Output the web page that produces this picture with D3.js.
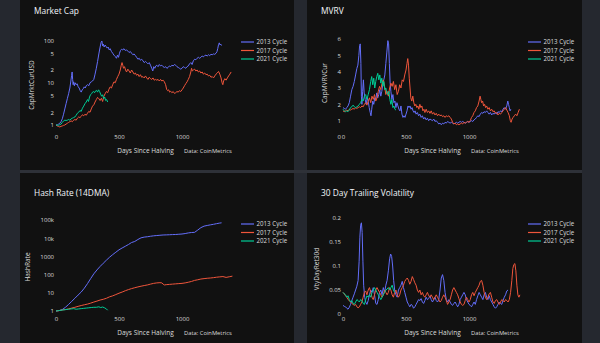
<!DOCTYPE html>
<html>
<head>
<meta charset="utf-8">
<script src="https://cdn.jsdelivr.net/npm/d3@7"></script>
<style>
  html, body { margin: 0; padding: 0; background: #25282f; }
  svg { display: block; }
</style>
</head>
<body>
<script>
// cycles shown in every panel
const cycles = ["2013 Cycle", "2017 Cycle", "2021 Cycle"];
const cycleColors = ["#636efa", "#ef553b", "#00cc96"];

const xTicks = [0, 500, 1000];

// Market Cap (normalised to halving day) -- [day, value]
const mcap2013 = [[0,1],[10,1],[20,1.05],[30,1.1],[40,1.2],[50,1.4],[60,1.8],[70,2.4],[80,3.2],[90,4.2],[100,5.5],[110,7.5],[118,11],[124,15],[128,18],[132,12],[136,9],[140,10.5],[146,8.5],[152,10],[160,9],[168,9.5],[176,8],[184,7.5],[192,6.5],[200,6],[208,6.8],[216,7.2],[224,8],[232,7.5],[240,8.5],[250,9],[260,8.5],[270,10],[280,10.5],[290,11],[300,12],[310,16],[320,22],[330,32],[340,48],[350,70],[358,90],[364,97],[370,75],[376,82],[382,70],[390,78],[398,72],[406,66],[414,70],[422,60],[430,64],[440,55],[450,50],[460,45],[470,42],[480,38],[488,45],[496,40],[504,50],[512,58],[520,62],[530,60],[540,64],[550,58],[560,60],[570,56],[580,52],[590,55],[600,50],[610,46],[620,48],[630,44],[640,40],[650,36],[660,38],[670,34],[680,36],[690,33],[700,30],[710,32],[720,30],[730,28],[740,30],[750,26],[760,22],[768,19],[776,24],[784,22],[792,25],[800,26],[810,24],[820,27],[830,25],[840,26],[850,24],[860,23],[870,24],[880,22],[890,23],[900,25],[910,24],[920,26],[930,25],[940,27],[950,26],[960,24],[970,23],[980,22],[990,21],[1000,22],[1010,24],[1020,23],[1030,22],[1040,24],[1050,25],[1060,28],[1070,30],[1080,27],[1090,33],[1100,36],[1110,35],[1120,38],[1130,40],[1140,38],[1150,40],[1160,43],[1170,41],[1180,44],[1190,45],[1200,43],[1210,46],[1220,44],[1230,47],[1240,46],[1250,48],[1260,47],[1270,50],[1278,55],[1284,65],[1290,80],[1296,88],[1302,78],[1308,82],[1314,76]];
const mcap2017 = [[0,1],[10,0.95],[20,0.92],[30,0.9],[40,0.93],[50,0.95],[60,0.98],[70,1],[80,1.05],[90,1.1],[100,1.15],[110,1.2],[120,1.25],[130,1.2],[140,1.3],[150,1.35],[160,1.3],[170,1.45],[180,1.55],[190,1.5],[200,1.6],[210,1.75],[220,1.65],[230,1.8],[240,1.7],[250,1.9],[260,2.1],[270,2],[280,2.4],[290,2.8],[300,3],[310,3.5],[320,4],[330,4.5],[340,4.2],[350,3.8],[360,4.3],[370,3.6],[380,4.8],[390,5.5],[400,6.2],[410,5.8],[420,7],[430,8],[440,7.5],[450,9],[460,10.5],[470,10],[480,12],[490,14],[500,16],[510,20],[518,26],[524,30],[530,26],[536,22],[544,24],[552,20],[560,18],[570,21],[580,19],[590,17],[600,20],[610,18],[620,16],[630,17],[640,15],[650,16],[660,14],[670,15.5],[680,13.5],[690,14],[700,13],[710,14.5],[720,13],[730,12],[740,13.5],[750,12.5],[760,12],[770,13],[780,11.5],[790,12],[800,11.5],[810,12],[820,11],[830,12],[840,11],[850,11.5],[860,10.5],[870,9],[878,7],[886,6.5],[894,6.8],[902,6],[910,6.3],[920,5.8],[930,6.2],[940,5.6],[950,5.8],[960,6.2],[970,6],[980,6.5],[990,6.2],[1000,6.8],[1010,7.5],[1020,8.5],[1030,9.5],[1040,10.5],[1050,12],[1060,14],[1070,18],[1076,22],[1082,19],[1090,20],[1100,21],[1110,19],[1120,20],[1130,18],[1140,19],[1150,17],[1160,18],[1170,16],[1180,17],[1190,15.5],[1200,16],[1210,14.5],[1220,15],[1230,13.5],[1240,14],[1250,13],[1260,14.5],[1270,16],[1280,17],[1290,18.5],[1300,16],[1310,13],[1318,10],[1324,9],[1330,11],[1340,12.5],[1350,11.5],[1360,13],[1370,14.5],[1380,16],[1390,18]];
const mcap2021 = [[0,1],[10,1],[20,0.98],[30,1.02],[40,1.05],[50,1.15],[60,1.25],[70,1.3],[80,1.28],[90,1.3],[100,1.35],[110,1.3],[120,1.4],[130,1.45],[140,1.5],[150,1.55],[160,1.7],[170,1.9],[180,2],[190,2.2],[200,2.1],[210,2.5],[220,2.8],[230,3.2],[240,3.5],[250,4],[258,3.6],[266,4.6],[274,5.2],[282,5.5],[290,6],[298,6.2],[306,5.8],[314,6.4],[322,6.6],[330,6],[338,6.8],[346,6.2],[354,5.4],[362,4.8],[370,5.2],[378,4.2],[386,4.6],[394,3.8],[402,4],[410,3.5]];
const mcapTicks = [1, 2, 5, 10, 20, 50, 100];
const mcapTickLabels = ["1", "2", "5", "10", "2", "5", "100"];

// MVRV
const mvrv2013 = [[0,1.8],[10,1.75],[20,1.7],[30,1.8],[40,1.9],[50,2.1],[60,2.5],[70,2.9],[80,3.1],[90,3.4],[100,3.8],[110,4.2],[118,4.4],[126,5],[132,5.6],[137,5.7],[142,4.5],[146,2.5],[150,2],[156,2.8],[162,3.5],[168,2.7],[176,2.3],[184,2],[192,2.4],[200,2.2],[208,1.8],[216,1.5],[222,1.3],[228,1.7],[236,2.2],[244,2],[252,2.4],[260,2.3],[268,2.7],[276,2.4],[284,2.6],[292,2.9],[300,2.5],[308,2.8],[316,3.2],[324,3.5],[332,3.8],[340,4.5],[348,5.2],[356,5.9],[362,5.7],[368,4.5],[374,3.3],[380,2.8],[388,2.3],[396,2.6],[404,2.1],[412,2.2],[420,1.8],[428,2.1],[436,1.9],[444,1.7],[452,1.6],[460,1.9],[468,1.4],[476,1.2],[484,1.3],[492,1.2],[500,1.4],[508,1.6],[516,1.9],[524,1.8],[532,1.9],[540,1.7],[548,1.8],[556,1.6],[564,1.5],[572,1.6],[580,1.4],[590,1.5],[600,1.3],[610,1.4],[620,1.2],[630,1.3],[640,1.1],[650,1.2],[660,1.05],[670,1.15],[680,1],[690,1.1],[700,1.05],[710,1],[720,1.1],[730,0.95],[740,1],[750,0.9],[760,0.8],[770,0.85],[780,0.75],[790,0.85],[800,0.8],[810,0.9],[820,0.85],[830,0.95],[840,0.9],[850,0.85],[860,0.9],[870,0.85],[880,0.8],[890,0.85],[900,0.9],[910,0.85],[920,0.9],[930,0.95],[940,0.9],[950,0.95],[960,0.9],[970,0.85],[980,0.9],[990,0.95],[1000,0.9],[1010,0.95],[1020,1],[1030,0.95],[1040,1.05],[1050,1.1],[1060,1.2],[1070,1.3],[1080,1.25],[1090,1.4],[1100,1.5],[1110,1.45],[1120,1.55],[1130,1.5],[1140,1.6],[1150,1.5],[1160,1.4],[1170,1.5],[1180,1.35],[1190,1.45],[1200,1.4],[1210,1.5],[1220,1.4],[1230,1.55],[1240,1.5],[1250,1.6],[1260,1.55],[1270,1.7],[1280,1.8],[1290,1.7],[1300,1.9],[1308,2.2],[1314,2],[1320,1.8],[1326,1.6],[1332,1.7]];
const mvrv2017 = [[0,1.6],[10,1.55],[20,1.6],[30,1.65],[40,1.6],[50,1.7],[60,1.65],[70,1.7],[80,1.75],[90,1.7],[100,1.8],[110,1.75],[120,1.8],[130,1.85],[140,1.8],[150,1.9],[160,1.85],[170,2],[180,2.1],[190,1.95],[200,2.2],[210,2.4],[220,2.1],[230,2.5],[240,2.3],[250,2.6],[260,2.2],[270,2.4],[280,2.8],[290,3.1],[300,2.9],[310,3.3],[320,3.5],[330,3.1],[340,2.6],[350,2.8],[360,2.5],[370,3],[380,3.3],[390,3.1],[400,3.4],[410,2.9],[420,3.2],[430,2.6],[440,2.8],[450,3.2],[460,3],[470,3.5],[480,3.4],[490,3.8],[500,4.1],[508,4.5],[514,4.8],[520,4.4],[526,3.6],[532,3],[538,2.4],[546,2.2],[554,2.5],[562,2.1],[570,1.9],[578,2],[586,1.8],[594,1.9],[602,1.7],[610,2],[618,1.8],[626,1.9],[634,1.6],[642,1.7],[650,1.5],[660,1.7],[670,1.5],[680,1.6],[690,1.45],[700,1.6],[710,1.4],[720,1.5],[730,1.35],[740,1.45],[750,1.3],[760,1.4],[770,1.3],[780,1.35],[790,1.25],[800,1.3],[810,1.2],[820,1.3],[830,1.25],[840,1.3],[850,1.2],[860,1.1],[870,0.9],[880,0.8],[890,0.85],[900,0.75],[910,0.8],[920,0.75],[930,0.8],[940,0.85],[950,0.8],[960,0.9],[970,0.85],[980,0.9],[990,0.95],[1000,0.9],[1010,1],[1020,1.2],[1030,1.3],[1040,1.5],[1050,1.6],[1060,1.8],[1070,1.9],[1080,2.2],[1088,2.5],[1094,2.3],[1100,2.1],[1108,2.2],[1116,1.9],[1124,2],[1132,1.8],[1140,1.9],[1150,1.7],[1160,1.8],[1170,1.6],[1180,1.7],[1190,1.55],[1200,1.6],[1210,1.45],[1220,1.5],[1230,1.35],[1240,1.45],[1250,1.4],[1260,1.5],[1270,1.6],[1280,1.7],[1290,1.8],[1300,1.65],[1310,1.5],[1320,1.3],[1328,1],[1334,0.9],[1342,1.1],[1350,1.2],[1360,1.3],[1370,1.4],[1380,1.3],[1390,1.5],[1400,1.7]];
const mvrv2021 = [[0,1.7],[10,1.6],[20,1.55],[30,1.6],[40,1.55],[50,1.65],[60,1.8],[70,1.85],[80,1.95],[90,1.85],[100,1.8],[110,1.85],[120,1.9],[130,2],[140,2.1],[150,2.3],[160,2.2],[170,2.5],[180,2.6],[190,2.3],[200,2.6],[210,2.9],[220,3.4],[228,3.7],[236,3.2],[244,3.6],[252,3],[260,3.4],[268,3.7],[276,3.9],[284,3.5],[292,3.8],[300,3.3],[308,3.6],[316,3.1],[324,3.4],[332,2.9],[340,3],[348,2.7],[356,2.6],[364,2.8],[372,2.3],[380,2],[388,2.3],[396,1.8],[404,1.9],[412,1.7],[420,1.65]];
const mvrvTicks = [0, 1, 2, 3, 4, 5, 6];

// Hash Rate (14DMA, normalised)
const hash2013 = [[0,1],[25,1.05],[50,1.2],[75,1.6],[100,2.3],[125,3.4],[150,5],[175,7.5],[200,11],[225,18],[250,32],[275,60],[300,110],[325,180],[350,280],[375,420],[400,620],[425,900],[450,1250],[475,1700],[500,2300],[525,2900],[550,3600],[575,4500],[600,5800],[625,6600],[650,8500],[675,10500],[700,11500],[725,12000],[750,12800],[775,13500],[800,14000],[825,14500],[850,15000],[875,15200],[900,15500],[925,15800],[950,16000],[975,16500],[1000,17000],[1025,18000],[1050,19500],[1075,20500],[1100,21000],[1125,28000],[1150,38000],[1175,46000],[1200,50000],[1225,54000],[1250,58000],[1275,63000],[1300,68000],[1314,70000]];
const hash2017 = [[0,1],[25,1.05],[50,1.15],[75,1.2],[100,1.3],[125,1.45],[150,1.6],[175,1.8],[200,2],[225,2.2],[250,2.4],[275,2.7],[300,3.1],[325,3.5],[350,4],[375,4.4],[400,5],[425,6],[450,6.8],[475,8],[500,9.5],[525,11],[550,13],[575,15],[600,17],[625,19],[650,21],[675,23],[700,25],[725,27],[750,30],[775,33],[800,35],[825,36],[840,35],[850,30],[860,27],[875,28],[900,29],[925,30],[950,31],[975,32],[1000,33],[1025,35],[1050,38],[1075,42],[1100,48],[1125,52],[1150,57],[1175,60],[1200,63],[1225,65],[1250,68],[1275,72],[1300,75],[1325,78],[1350,70],[1375,76],[1400,82]];
const hash2021 = [[0,1],[20,1.05],[40,1.1],[60,1.15],[80,1.2],[100,1.25],[120,1.3],[140,1.35],[160,1.25],[180,1.3],[200,1.35],[220,1.4],[240,1.45],[260,1.5],[280,1.55],[300,1.6],[320,1.6],[340,1.7],[355,1.55],[370,1.65],[385,1.5],[400,1.3],[410,1.1]];
const hashTicks = [1, 10, 100, 1000, 10000, 100000];
const hashTickLabels = ["1", "10", "100", "1000", "10k", "100k"];

// 30 day trailing volatility
const vol2013 = [[0,.018],[10,.016],[20,.015],[30,.012],[40,.01],[50,.014],[60,.02],[70,.028],[80,.035],[90,.042],[100,.05],[110,.058],[120,.07],[128,.11],[134,.16],[140,.185],[146,.19],[152,.17],[158,.11],[164,.06],[172,.035],[180,.025],[190,.02],[200,.028],[210,.04],[220,.05],[230,.045],[240,.055],[250,.04],[260,.022],[270,.02],[280,.03],[290,.045],[300,.05],[310,.04],[320,.055],[330,.045],[340,.06],[350,.07],[360,.09],[370,.115],[378,.125],[386,.12],[394,.1],[402,.07],[410,.05],[420,.04],[430,.035],[440,.05],[450,.055],[460,.06],[470,.068],[480,.055],[490,.045],[500,.035],[510,.025],[520,.02],[530,.015],[540,.02],[550,.018],[560,.012],[570,.015],[580,.02],[590,.025],[600,.03],[610,.028],[620,.032],[630,.025],[640,.022],[650,.028],[660,.035],[670,.03],[680,.032],[690,.038],[700,.03],[710,.025],[720,.03],[730,.035],[740,.028],[750,.025],[760,.03],[770,.05],[780,.075],[790,.082],[800,.07],[810,.045],[820,.03],[830,.025],[840,.03],[850,.025],[860,.02],[870,.018],[880,.022],[890,.025],[900,.02],[910,.015],[920,.02],[930,.03],[940,.035],[950,.04],[960,.045],[970,.04],[980,.03],[990,.025],[1000,.02],[1010,.018],[1020,.015],[1030,.02],[1040,.025],[1050,.02],[1060,.03],[1070,.038],[1080,.045],[1090,.04],[1100,.035],[1110,.03],[1120,.04],[1130,.045],[1140,.035],[1150,.03],[1160,.038],[1170,.03],[1180,.025],[1190,.02],[1200,.015],[1210,.012],[1220,.015],[1230,.02],[1240,.025],[1250,.022],[1260,.02],[1270,.028],[1280,.035],[1290,.04],[1300,.048],[1310,.05]];
const vol2017 = [[0,.045],[10,.042],[20,.038],[30,.035],[40,.03],[50,.028],[60,.025],[70,.022],[80,.02],[90,.018],[100,.02],[110,.015],[120,.013],[130,.015],[140,.02],[150,.025],[160,.035],[170,.045],[180,.048],[190,.04],[200,.05],[210,.055],[220,.045],[230,.035],[240,.03],[250,.04],[260,.05],[270,.055],[280,.05],[290,.045],[300,.04],[310,.035],[320,.04],[330,.05],[340,.045],[350,.04],[360,.045],[370,.055],[380,.05],[390,.04],[400,.035],[410,.045],[420,.05],[430,.04],[440,.035],[450,.04],[460,.05],[470,.055],[480,.06],[490,.068],[500,.072],[510,.075],[520,.07],[530,.062],[540,.068],[550,.078],[560,.072],[570,.065],[580,.06],[590,.05],[600,.045],[610,.05],[620,.04],[630,.045],[640,.038],[650,.035],[660,.04],[670,.045],[680,.038],[690,.035],[700,.04],[710,.035],[720,.03],[730,.035],[740,.04],[750,.035],[760,.03],[770,.025],[780,.028],[790,.035],[800,.04],[810,.035],[820,.028],[830,.02],[840,.025],[850,.03],[860,.04],[870,.05],[880,.055],[890,.05],[900,.045],[910,.04],[920,.032],[930,.025],[940,.02],[950,.018],[960,.02],[970,.028],[980,.035],[990,.03],[1000,.025],[1010,.03],[1020,.04],[1030,.045],[1040,.038],[1050,.045],[1060,.05],[1070,.055],[1080,.06],[1090,.068],[1100,.07],[1110,.06],[1120,.045],[1130,.035],[1140,.03],[1150,.035],[1160,.042],[1170,.045],[1180,.035],[1190,.025],[1200,.022],[1210,.028],[1220,.03],[1230,.025],[1240,.02],[1250,.025],[1260,.03],[1270,.028],[1280,.025],[1290,.03],[1300,.028],[1310,.025],[1320,.03],[1330,.045],[1340,.07],[1348,.095],[1356,.103],[1364,.105],[1372,.09],[1380,.06],[1388,.04],[1396,.035],[1404,.04]];
const vol2021 = [[0,.045],[10,.042],[20,.04],[30,.035],[40,.038],[50,.03],[60,.025],[70,.028],[80,.022],[90,.02],[100,.025],[110,.03],[120,.028],[130,.025],[140,.03],[150,.028],[160,.022],[170,.02],[180,.03],[190,.038],[200,.035],[210,.04],[220,.035],[230,.045],[240,.05],[250,.055],[260,.05],[270,.045],[280,.04],[290,.035],[300,.03],[310,.035],[320,.04],[330,.045],[340,.05],[350,.052],[360,.055],[370,.05],[380,.055],[390,.06],[400,.05],[410,.045]];
const volTicks = [0, 0.05, 0.1, 0.15, 0.2];
const volTickLabels = ["0", "0.05", "0.1", "0.15", "0.2"];

const W = 600, H = 343;
const font = "'Open Sans', sans-serif";

const svg = d3.select("body").append("svg")
  .attr("width", W).attr("height", H);

svg.append("rect").attr("width", W).attr("height", H).attr("fill", "#25282f");

function drawPanel(cfg) {
  const g = svg.append("g").attr("transform", `translate(${cfg.left},${cfg.top})`);

  g.append("rect")
    .attr("width", cfg.width).attr("height", cfg.height)
    .attr("fill", "#111111");

  const x = d3.scaleLinear().domain([0, 1400]).range([36, 36 + 1400 * 0.126]);
  const y = cfg.y;

  // title
  g.append("text")
    .attr("x", 14).attr("y", 23)
    .attr("font-family", font).attr("font-size", "8.4px")
    .attr("fill", "#f2f5fa")
    .text(cfg.title);

  // lines
  const line = d3.line().x(d => x(d[0])).y(d => y(d[1]));
  cfg.series.forEach((s, i) => {
    g.append("path")
      .datum(s)
      .attr("fill", "none")
      .attr("stroke", cycleColors[i])
      .attr("stroke-width", 1)
      .attr("stroke-linejoin", "round")
      .attr("d", line);
  });

  // y axis
  const yAxis = g.append("g")
    .attr("transform", "translate(34,0)")
    .call(d3.axisLeft(y).tickValues(cfg.yTicks)
      .tickFormat((d, i) => cfg.yLabels[i]).tickSize(0).tickPadding(0));
  yAxis.select(".domain").remove();
  yAxis.selectAll("text")
    .attr("font-family", font).attr("font-size", "6px").attr("fill", "#dcdcdc");

  // x axis
  const xAxis = g.append("g")
    .attr("transform", "translate(0,143.5)")
    .call(d3.axisBottom(x).tickValues(xTicks).tickFormat(d3.format("d"))
      .tickSize(0).tickPadding(0));
  xAxis.select(".domain").remove();
  xAxis.selectAll("text")
    .attr("font-family", font).attr("font-size", "6px").attr("fill", "#dcdcdc");

  // axis titles
  g.append("text")
    .attr("x", 125.5).attr("y", 161.5)
    .attr("text-anchor", "middle")
    .attr("font-family", font).attr("font-size", "6.5px").attr("fill", "#dcdcdc")
    .text("Days Since Halving");

  g.append("text")
    .attr("x", 164).attr("y", 161.5)
    .attr("font-family", font).attr("font-size", "5.8px").attr("fill", "#dcdcdc")
    .text("Data: CoinMetrics");

  g.append("text")
    .attr("transform", `translate(${cfg.yTitleX},${cfg.yTitleY}) rotate(-90)`)
    .attr("text-anchor", "middle")
    .attr("font-family", font).attr("font-size", "6.5px").attr("fill", "#dcdcdc")
    .text(cfg.yTitle);

  // legend
  const legend = g.append("g").attr("transform", "translate(221,51)");
  cycles.forEach((c, i) => {
    const row = legend.append("g").attr("transform", `translate(0,${i * 8.5})`);
    row.append("line")
      .attr("x1", 0).attr("x2", 13)
      .attr("stroke", cycleColors[i]).attr("stroke-width", 1.2);
    row.append("text")
      .attr("x", 15.5).attr("y", 2.2)
      .attr("font-family", font).attr("font-size", "6.2px").attr("fill", "#dcdcdc")
      .text(c);
  });
}

// Market Cap
drawPanel({
  left: 20, top: -9, width: 274, height: 179,
  title: "Market Cap",
  y: d3.scaleLog().domain([1, 100]).range([134, 49.5]),
  yTicks: mcapTicks, yLabels: mcapTickLabels,
  yTitle: "CapMrktCurUSD", yTitleX: 14, yTitleY: 94,
  series: [mcap2013, mcap2017, mcap2021]
});

// MVRV
drawPanel({
  left: 307, top: -9, width: 275, height: 179,
  title: "MVRV",
  y: d3.scaleLinear().domain([0, 6]).range([146, 48]),
  yTicks: mvrvTicks, yLabels: mvrvTicks.map(String),
  yTitle: "CapMVRVCur", yTitleX: 20, yTitleY: 92,
  series: [mvrv2013, mvrv2017, mvrv2021]
});

// Hash Rate
drawPanel({
  left: 20, top: 173, width: 274, height: 170,
  title: "Hash Rate (14DMA)",
  y: d3.scaleLog().domain([1, 100000]).range([138, 47]),
  yTicks: hashTicks, yLabels: hashTickLabels,
  yTitle: "HashRate", yTitleX: 10, yTitleY: 94,
  series: [hash2013, hash2017, hash2021]
});

// Volatility
drawPanel({
  left: 307, top: 173, width: 275, height: 170,
  title: "30 Day Trailing Volatility",
  y: d3.scaleLinear().domain([0, 0.2]).range([141, 45]),
  yTicks: volTicks, yLabels: volTickLabels,
  yTitle: "VtyDayRet30d", yTitleX: 12, yTitleY: 96,
  series: [vol2013, vol2017, vol2021]
});

// thin separator under the top row
svg.append("rect").attr("x", 20).attr("y", 170).attr("width", 562).attr("height", 3).attr("fill", "#2e3138");
</script>
</body>
</html>
